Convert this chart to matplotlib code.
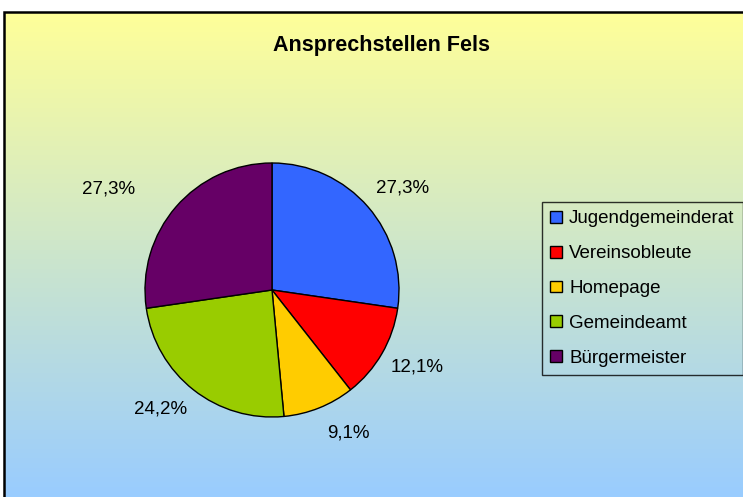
import matplotlib.pyplot as plt
import numpy as np
from matplotlib.patches import Patch, Rectangle
from matplotlib.colors import LinearSegmentedColormap

plt.rcParams['font.family'] = ['Liberation Sans', 'DejaVu Sans']

title = 'Ansprechstellen Fels'
categories = ['Jugendgemeinderat', 'Vereinsobleute', 'Homepage', 'Gemeindeamt', 'Bürgermeister']
values = [27.3, 12.1, 9.1, 24.2, 27.3]
labels = ['27,3%', '12,1%', '9,1%', '24,2%', '27,3%']
colors = ['#3366FF', '#FF0000', '#FFCC00', '#99CC00', '#660066']

W, H = 743, 497
fig = plt.figure(figsize=(W / 100, H / 100), dpi=100)

# gradient background
bg = fig.add_axes([0, 0, 1, 1])
bg.set_axis_off()
cmap = LinearSegmentedColormap.from_list('bg', ['#FFFF99', '#99CCFF'])
grad = np.linspace(0, 1, 256).reshape(-1, 1)
top = 1 - 12 / H
bg.imshow(grad, cmap=cmap, aspect='auto', extent=[4 / W, 1.01, 0, top])
bg.set_xlim(0, 1)
bg.set_ylim(0, 1)
bg.add_patch(Rectangle((4 / W, -0.01), 1.0, top + 0.01, fill=False,
                       edgecolor='black', linewidth=1.8))

fig.text(381 / W, 1 - 45 / H, title, ha='center', va='center',
         fontsize=15.5, fontweight='bold')

# pie
cx, cy, r = 272, 290, 127
ax = fig.add_axes([(cx - r) / W, (H - cy - r) / H, 2 * r / W, 2 * r / H])
wedges, _ = ax.pie(values, colors=colors, startangle=90, counterclock=False,
                   wedgeprops=dict(edgecolor='black', linewidth=1.0))
ax.set_xlim(-1, 1)
ax.set_ylim(-1, 1)
ax.set_aspect('equal')

# small manual nudges (points) to mimic the original label placement
nudges = [(0, 3), (0, 0), (3, -5), (0, -2), (-24, 2)]
for w, lab, (dx, dy) in zip(wedges, labels, nudges):
    ang = np.deg2rad((w.theta1 + w.theta2) / 2)
    x, y = 1.08 * np.cos(ang), 1.08 * np.sin(ang)
    ha = 'left' if np.cos(ang) > 0 else 'right'
    va = 'bottom' if np.sin(ang) > 0 else 'top'
    ax.annotate(lab, (x, y), xytext=(dx, dy), textcoords='offset points',
                ha=ha, va=va, fontsize=13.5, annotation_clip=False)

handles = [Patch(facecolor=c, edgecolor='black', linewidth=1.0) for c in colors]
leg = fig.legend(handles, categories, loc='upper left',
                 bbox_to_anchor=(542 / W, 1 - 202 / H), fontsize=13.5,
                 frameon=True, fancybox=False, edgecolor='black',
                 handlelength=0.6, handleheight=0.6, handletextpad=0.4,
                 labelspacing=0.95, borderpad=0.45, borderaxespad=0)
leg.get_frame().set_facecolor('none')
leg.get_frame().set_linewidth(1.0)

fig.savefig('out.png', dpi=100)
